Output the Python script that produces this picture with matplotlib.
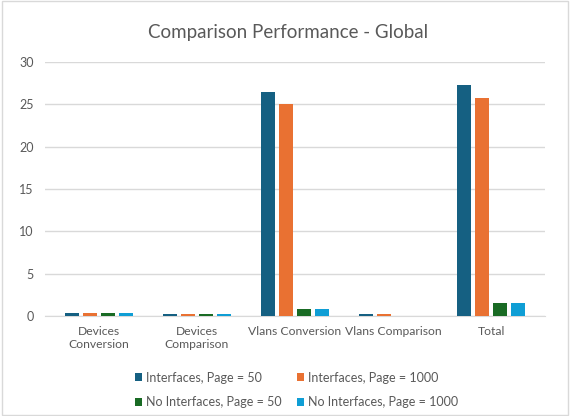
import numpy as np
import matplotlib.pyplot as plt
from matplotlib.patches import Rectangle

plt.rcParams['font.family'] = ['Lato', 'DejaVu Sans']

categories = ['Devices\nConversion', 'Devices\nComparison', 'Vlans Conversion', 'Vlans Comparison', 'Total']
series_names = ['Interfaces, Page = 50', 'Interfaces, Page = 1000',
                'No Interfaces, Page = 50', 'No Interfaces, Page = 1000']
if_50 = [0.35, 0.25, 26.4, 0.25, 27.3]
if_1000 = [0.35, 0.25, 25.0, 0.25, 25.8]
noif_50 = [0.35, 0.25, 0.8, 0.05, 1.5]
noif_1000 = [0.35, 0.25, 0.8, 0.05, 1.5]
colors = ['#156082', '#E97132', '#196B24', '#0F9ED5']

fig = plt.figure(figsize=(5.7, 4.16), dpi=100)
ax = fig.add_axes([0.079, 0.240, 0.877, 0.611])

# light frame like the Excel chart area
fig.patches.append(Rectangle((0.003, 0.003), 0.994, 0.994, transform=fig.transFigure,
                             fill=False, ec='#d9d9d9', lw=1))

x = np.arange(len(categories))
step = 0.185
width = 0.145
handles = []
for i, (vals, col) in enumerate(zip([if_50, if_1000, noif_50, noif_1000], colors)):
    h = ax.bar(x + (i - 1.5) * step, vals, width, color=col, label=series_names[i], zorder=3)
    handles.append(h)

ax.set_ylim(0, 30)
ax.set_xlim(-0.55, 4.55)
ax.set_yticks(range(0, 31, 5))
ax.set_xticks(x)
ax.set_xticklabels(categories)
ax.yaxis.grid(True, color='#d9d9d9', lw=1, zorder=0)
for s in ['top', 'right', 'left']:
    ax.spines[s].set_visible(False)
ax.spines['bottom'].set_color('#d9d9d9')
ax.tick_params(axis='y', length=0, colors='#595959', labelsize=9, pad=8)
ax.tick_params(axis='x', length=0, colors='#595959', labelsize=8.7, pad=7)

fig.text(0.505, 0.922, 'Comparison Performance - Global', ha='center', va='center',
         fontsize=13.5, color='#595959')

# legend fills column-first, so interleave to get row order
order = [0, 2, 1, 3]
fig.legend(handles=[handles[k] for k in order], labels=[series_names[k] for k in order],
           loc='center', ncol=2,
           bbox_to_anchor=(0.52, 0.063), frameon=False, fontsize=9,
           handlelength=0.6, handleheight=0.6, handletextpad=0.3,
           columnspacing=1.2, labelspacing=1.0, labelcolor='#595959')

fig.savefig('out.png', dpi=100)
